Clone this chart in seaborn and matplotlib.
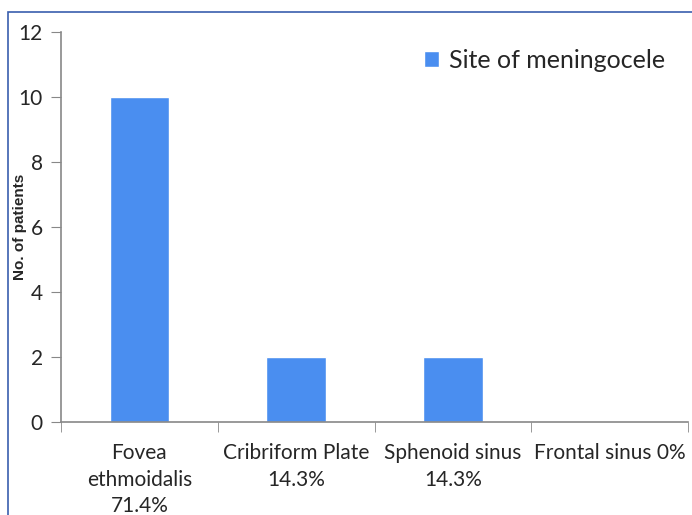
import matplotlib
matplotlib.use("Agg")
import matplotlib.pyplot as plt
import seaborn as sns
import pandas as pd
from matplotlib.patches import Rectangle
from matplotlib.ticker import FixedLocator

categories = ["Fovea\nethmoidalis\n71.4%", "Cribriform Plate\n14.3%",
              "Sphenoid sinus\n14.3%", "Frontal sinus 0%"]
patients = [10, 2, 2, 0]
series_name = "Site of meningocele"

df = pd.DataFrame({"site": categories, "patients": patients})

sns.set_style("white")
plt.rcParams["font.family"] = ["Lato", "DejaVu Sans"]

fig = plt.figure(figsize=(6.92, 5.15), dpi=100)
ax = fig.add_axes([61 / 692, 1 - 422 / 515, 627 / 692, 390 / 515])

sns.barplot(data=df, x="site", y="patients", color="#4a8ef0", width=0.38,
            saturation=1, label=series_name, ax=ax)

ax.set_xlim(-0.5, 3.5)
ax.set_ylim(0, 12)
ax.set_yticks(range(0, 13, 2))
ax.tick_params(axis="y", labelsize=15, length=7, color="#888888", left=True, pad=6)
ax.tick_params(axis="x", which="major", labelsize=15, length=0, pad=15)
ax.xaxis.set_minor_locator(FixedLocator([-0.5, 0.5, 1.5, 2.5, 3.5]))
ax.tick_params(axis="x", which="minor", length=7, color="#888888", bottom=True)
for lbl in ax.get_xticklabels():
    lbl.set_linespacing(1.42)
    lbl.set_verticalalignment("top")

for side in ["top", "right"]:
    ax.spines[side].set_visible(False)
for side in ["left", "bottom"]:
    ax.spines[side].set_color("#888888")
    ax.spines[side].set_linewidth(1.2)

ax.set_xlabel("")
ax.set_ylabel("No. of patients", fontsize=11, fontweight="bold", family="Liberation Sans", labelpad=-6)

ax.legend(loc="upper right", bbox_to_anchor=(1.0, 1.015), frameon=False, fontsize=18,
          handlelength=0.6, handleheight=0.6, handletextpad=0.4)

# outer frame around the chart
fig.patches.append(Rectangle((8 / 692, -0.1), 1.2, 1 - 12 / 515 + 0.1, transform=fig.transFigure,
                             fill=False, edgecolor="#3a5fae", linewidth=1.2))

fig.savefig("out.png", dpi=100)
